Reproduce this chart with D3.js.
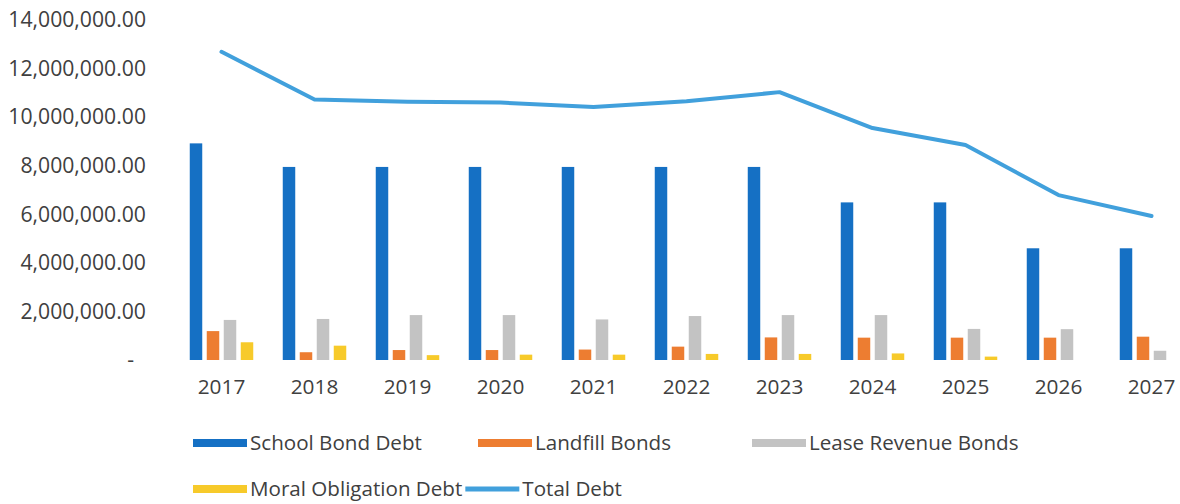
<!DOCTYPE html>
<html>
<head>
<meta charset="utf-8">
<script src="https://cdn.jsdelivr.net/npm/d3@7"></script>
<style>
  body { margin:0; background:#fff; }
  text { font-family:"Open Sans", sans-serif; fill:#404040; }
</style>
</head>
<body>
<div id="chart"></div>
<script>
// data
const years = ["2017","2018","2019","2020","2021","2022","2023","2024","2025","2026","2027"]
const schoolBond = [8920000,7950000,7950000,7950000,7950000,7950000,7950000,6490000,6490000,4600000,4600000]
const landfill   = [1190000,320000,410000,410000,430000,550000,930000,920000,920000,920000,960000]
const leaseRev   = [1650000,1690000,1850000,1850000,1670000,1810000,1850000,1850000,1280000,1270000,380000]
const moral      = [730000,590000,200000,220000,220000,250000,250000,270000,140000,0,0]
const totalDebt  = [12690000,10730000,10630000,10600000,10420000,10650000,11030000,9550000,8850000,6790000,5930000]
const yTicks = [0,2000000,4000000,6000000,8000000,10000000,12000000,14000000]

const seriesNames = ["School Bond Debt","Landfill Bonds","Lease Revenue Bonds","Moral Obligation Debt"]
const seriesColors = ["#1570c4","#ed7d31","#c3c3c3","#f7ca2a"]
const lineColor = "#41a0dc"

function render(){
  let width = 1180, height = 504

  let svg = d3.select("#chart").append("svg")
    .attr("width", width).attr("height", height)

  let xScale = d3.scaleBand().domain(years).range([175, 1198])
  let yScale = d3.scaleLinear().domain([0, 14000000]).range([360, 20])
  let xSub = d3.scaleBand().domain(seriesNames)
    .range([-34, 34]).paddingInner(0.265).paddingOuter(0.1325)

  let allSeries = [schoolBond, landfill, leaseRev, moral]

  // y axis labels only
  let yAxis = d3.axisLeft(yScale).tickValues(yTicks).tickSize(0).tickPadding(0)
    .tickFormat(d => d === 0 ? "-" : d3.format(",.2f")(d))
  let yGroup = svg.append("g").attr("transform", "translate(146,0)").call(yAxis)
  yGroup.select(".domain").remove()
  yGroup.selectAll("text").style("font-size","21.2px").style("font-family","'Open Sans', sans-serif").attr("fill","#404040")
  yGroup.selectAll(".tick").filter(d => d === 0).select("text").attr("dx", -12)

  // x axis labels
  let xAxis = d3.axisBottom(xScale).tickSize(0).tickPadding(0)
  let xGroup = svg.append("g").attr("transform", "translate(0,379)").call(xAxis)
  xGroup.select(".domain").remove()
  xGroup.selectAll("text").style("font-size","20.8px").style("font-family","'Open Sans', sans-serif").attr("fill","#404040")

  // bars
  let groups = svg.selectAll("g.year")
    .data(years)
    .enter()
    .append("g")
    .attr("class","year")
    .attr("transform", d => `translate(${xScale(d) + xScale.bandwidth()/2},0)`)

  groups.selectAll("rect")
    .data((d,i) => seriesNames.map((s,j) => ({ name:s, value:allSeries[j][i], color:seriesColors[j] })))
    .enter()
    .append("rect")
    .attr("x", d => xSub(d.name))
    .attr("width", xSub.bandwidth())
    .attr("y", d => yScale(d.value))
    .attr("height", d => yScale(0) - yScale(d.value))
    .attr("fill", d => d.color)

  // total line
  let line = d3.line()
    .x((d,i) => xScale(years[i]) + xScale.bandwidth()/2)
    .y(d => yScale(d))
  svg.append("path")
    .attr("d", line(totalDebt))
    .attr("fill","none")
    .attr("stroke", lineColor)
    .attr("stroke-width", 4)
    .attr("stroke-linejoin","round")
    .attr("stroke-linecap","round")

  // legend
  let legend = svg.append("g")
  let fs = "20.6px"
  let row1 = [[0,193],[1,478],[2,752]]
  row1.forEach(([j,x]) => {
    legend.append("rect").attr("x",x).attr("y",439).attr("width",54).attr("height",8).attr("fill",seriesColors[j])
    legend.append("text").attr("x",x+57).attr("y",450).style("font-size",fs).text(seriesNames[j])
  })
  legend.append("rect").attr("x",193).attr("y",485).attr("width",54).attr("height",8).attr("fill",seriesColors[3])
  let mt = legend.append("text").attr("x",250).attr("y",496).style("font-size",fs).text(seriesNames[3])
  let lx = 250 + mt.node().getComputedTextLength() + 3
  legend.append("line").attr("x1",lx).attr("x2",lx+54).attr("y1",489).attr("y2",489)
    .attr("stroke",lineColor).attr("stroke-width",5)
  legend.append("text").attr("x",lx+57).attr("y",496).style("font-size",fs).text("Total Debt")
}

render()
</script>
</body>
</html>
